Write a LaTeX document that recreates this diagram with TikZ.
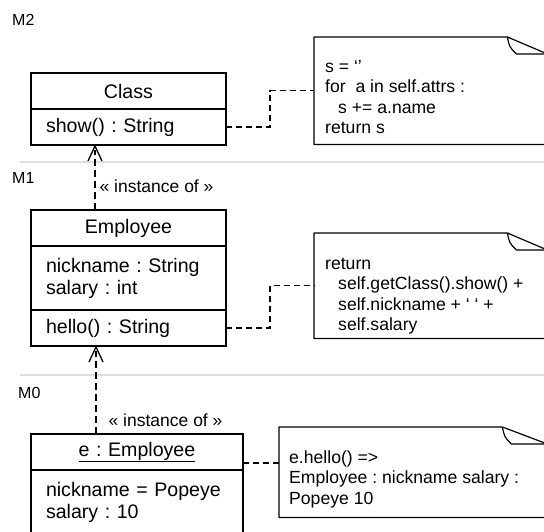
\documentclass[tikz,border=0pt]{standalone}
\usepackage{fontspec}
\setmainfont{Liberation Sans}
\usetikzlibrary{positioning,arrows.meta}
\frenchspacing

\newcommand{\boxfont}{\fontsize{19.6}{22}\selectfont}
\newcommand{\notefont}{\fontsize{17.6}{20.5}\selectfont}
\newcommand{\ind}{\hspace*{13pt}}

% note outline with a folded corner
\newcommand{\drawnote}[2]{%
  \draw[notestroke] (#1.north west) -- ([xshift=-#2]#1.north east) -- ([yshift=-17pt]#1.north east)
    -- (#1.south east) -- (#1.south west) -- cycle;
  \draw[notestroke] ([xshift=-#2]#1.north east) .. controls ([xshift=-#2+2pt,yshift=-10pt]#1.north east)
    .. ([xshift=-#2+9pt,yshift=-17pt]#1.north east) -- ([yshift=-17pt]#1.north east);
}

\tikzset{
  umlbox/.style={draw, line width=1.3pt, outer sep=0pt, inner xsep=15pt, inner ysep=0pt,
    minimum height=36pt, text width=#1, font=\boxfont},
  umltitle/.style={umlbox=#1, align=center},
  umlbody/.style={umlbox=#1, align=left},
  noteframe/.style={draw=none, inner sep=0pt, anchor=north west},
  notestroke/.style={line width=1.2pt, line join=round},
  notetext/.style={inner sep=0pt, anchor=base west, font=\notefont},
  notelink/.style={line width=1.2pt, dash pattern=on 6pt off 4pt},
  instof/.style={line width=1.3pt, dash pattern=on 7pt off 4pt},
  insthead/.style={line width=1.3pt, line join=miter},
  instlabel/.style={inner sep=0pt, anchor=west, font=\fontsize{17.5}{20}\selectfont},
  layerline/.style={line width=1.2pt, draw=black!13},
  layerlabel/.style={inner sep=0pt, anchor=west, font=\fontsize{16}{18}\selectfont}
}

\begin{document}
\begin{tikzpicture}[x=1pt,y=-1pt]
\clip (0,0) rectangle (544,531);

% levels
\draw[layerline] (20,162) -- (544,162);
\draw[layerline] (20,375) -- (544,375);
\node[layerlabel] (m2) at (12,20) {M2};
\node[layerlabel] (m1) at (12,178) {M1};
\node[layerlabel] (m0) at (18,393) {M0};

% class Class
\node[umltitle=165pt] (clsname) at (128.5,91) {Class};
\node[umlbody=165pt, below=0pt of clsname] (clsops) {show() : String};

% class Employee
\node[umltitle=165pt] (empname) at (128.5,228) {Employee};
\node[umlbody=165pt, minimum height=64pt, below=0pt of empname] (empattrs) {nickname : String\\salary : int};
\node[umlbody=165pt, below=0pt of empattrs] (empops) {hello() : String};

% object e
\node[umltitle=182pt] (ename) at (137,452) {\underline{e : Employee}};
\node[umlbody=182pt, minimum height=64pt, below=0pt of ename] (eattrs) {nickname = Popeye\\salary : 10};

% notes
\node[noteframe, minimum width=233pt, minimum height=107pt] (note1) at (314,37) {};
\drawnote{note1}{40pt}
\node[notetext] (note1txt) at (325,72) {\begin{tabular}[t]{@{}l@{}}
s = ‘’\\
for\ \ a in self.attrs :\\
\ind s += a.name\\
return s
\end{tabular}};

\node[noteframe, minimum width=233pt, minimum height=105pt] (note2) at (314,233) {};
\drawnote{note2}{40pt}
\node[notetext] (note2txt) at (325,269) {\begin{tabular}[t]{@{}l@{}}
return\\
\ind self.getClass().show() +\\
\ind self.nickname + ‘ ‘ +\\
\ind self.salary
\end{tabular}};

\node[noteframe, minimum width=268pt, minimum height=90pt] (note3) at (279,427) {};
\drawnote{note3}{45pt}
\node[notetext] (note3txt) at (289,463) {\begin{tabular}[t]{@{}l@{}}
e.hello() =>\\
Employee : nickname salary :\\
Popeye 10
\end{tabular}};

% links to notes
\draw[notelink] (clsops.east) -- ++(44,0) |- (note1.west);
\draw[notelink] (empops.east) -- ++(44,0) |- (note2.west);
\draw[notelink] ([yshift=-11pt]ename.east) -- ([yshift=-11pt]ename.east -| note3.west);

% instance of
\draw[instof] ([xshift=-33.5pt]empname.north) -- ([xshift=-33.5pt,yshift=-5pt]clsops.south)
  node[instlabel, pos=0.4, xshift=4pt] (inst1) {« instance of »};
\draw[insthead] ([xshift=-40.5pt,yshift=-16pt]clsops.south) -- ([xshift=-33.5pt,yshift=-1pt]clsops.south)
  -- ([xshift=-26.5pt,yshift=-16pt]clsops.south);
\draw[instof] ([xshift=-41pt]ename.north) -- ([xshift=-32.5pt,yshift=-5pt]empops.south)
  node[instlabel, pos=0.17, xshift=12pt] (inst2) {« instance of »};
\draw[insthead] ([xshift=-39.5pt,yshift=-16pt]empops.south) -- ([xshift=-32.5pt,yshift=-1pt]empops.south)
  -- ([xshift=-25.5pt,yshift=-16pt]empops.south);
\end{tikzpicture}
\end{document}
